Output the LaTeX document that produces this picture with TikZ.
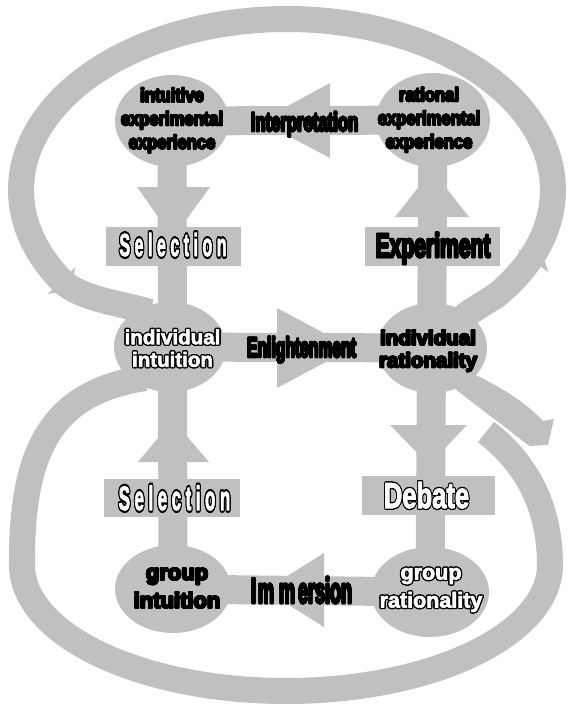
\documentclass[tikz,border=0pt]{standalone}
\usepackage{fontspec}
\usepackage{graphicx}
\usepackage[copies]{contour}
\usetikzlibrary{shapes.geometric}
\newfontfamily\blk{Liberation Sans Bold}[FakeBold=3]
\definecolor{ltgray}{RGB}{192,192,192}
\contournumber{12}
\newcommand\hs[2]{\scalebox{#1}[1]{#2}}
\newcommand\hv[1]{{\contourlength{0.55pt}\contour{black}{#1}}}
\newcommand\hvv[1]{{\contourlength{0.8pt}\contour{black}{#1}}}
\newcommand\hollow[1]{{\contourlength{1.3pt}\color{white}\contour{black}{#1}}}
\newcommand\hollowx[1]{{\contourlength{2.2pt}\color{white}\contour{black}{#1}}}
\begin{document}
\begin{tikzpicture}[x=1pt,y=-1pt,
  band/.style={draw=ltgray,line width=26pt,line join=round},
  bar/.style={draw=ltgray,line width=29pt},
  blob/.style={ellipse,fill=ltgray,inner sep=0pt,outer sep=0pt},
  tag/.style={rectangle,fill=ltgray,inner sep=0pt,outer sep=0pt},
  head/.style={fill=ltgray},
  word/.style={inner sep=0pt,outer sep=0pt,align=center,text=black}]
\useasboundingbox (0,0) rectangle (567,706);

% ---- big loops
\draw[band] (446,330) -- (470,312) -- plot[domain=-38:212,samples=120] ({287+266*cos(\x)},{190-171*sin(\x)}) .. controls (80,299) and (120,303) .. (150,312);
\fill[head] (75.2,267.3) -- (47.8,293.9) -- (71.3,290.7) -- cycle;
\fill[head] (548.4,272.2) -- (517.6,249.8) -- (541.2,249.7) -- cycle;

\draw[band] (145,378) .. controls (55,392) and (21,445) .. (22,565) -- plot[domain=180:360,samples=120] ({286+264*cos(\x)},{565-126*sin(\x)}) .. controls (550,505) and (525,462) .. (486,432);

% ---- ellipses
\node[blob, minimum width=114pt, minimum height=92pt] (iee) at (172,121) {};
\node[blob, minimum width=114pt, minimum height=94pt] (ree) at (433,120) {};
\node[blob, minimum width=112pt, minimum height=90pt] (ii) at (170,347) {};
\node[blob, minimum width=110pt, minimum height=90pt] (ir) at (432,348) {};
\node[blob, minimum width=116pt, minimum height=88pt] (gi) at (173,589) {};
\node[blob, minimum width=118pt, minimum height=90pt] (gr) at (430,592) {};

% ---- connectors
\draw[bar] (iee.center) -- (gi.center);
\draw[bar] (ree.center) -- (gr.center);
\draw[bar] (ree.center) -- (iee.center);
\draw[bar] (ii.center) -- (ir.center);
\draw[bar] (gr.center) -- (gi.center);

% ---- arrowheads
\fill[head] (330,83) -- (330,158) -- (260,121) -- cycle;
\fill[head] (277,308) -- (277,388) -- (352,348) -- cycle;
\fill[head] (324,553) -- (324,627) -- (265,590) -- cycle;
\fill[head] (137,187) -- (210,187) -- (173,238) -- cycle;
\fill[head] (395,217) -- (469,217) -- (432,170) -- cycle;
\fill[head] (138,462) -- (209,462) -- (173,420) -- cycle;
\fill[head] (390,425) -- (467,425) -- (429,465) -- cycle;

% ---- branch from individual rationality
\fill[head] (452,365) -- (480,377) .. controls (505,390) and (525,402) .. (543,421) -- (554,419) -- (548,445) -- (529,446) -- (450,385) -- cycle;
\draw[white, line width=1.6pt] (492,418.5) -- (531,448.5);

% ---- label boxes
\node[tag, minimum width=135pt, minimum height=39pt] (sel1) at (173.5,246.5) {};
\node[tag, minimum width=135pt, minimum height=39pt] (exp) at (432.5,246.5) {};
\node[tag, minimum width=136pt, minimum height=38pt] (sel2) at (172,498) {};
\node[tag, minimum width=133pt, minimum height=39pt] (deb) at (428.5,495.5) {};

% ---- texts
\node[word, font=\fontsize{19.5}{23.5}\selectfont\blk] (iee-t) at (172,120.5)
  {\hs{0.85}{\hv{intuitive}}\\\hs{0.85}{\hv{experimental}}\\\hs{0.85}{\hv{experience}}};
\node[word, font=\fontsize{19.5}{23.5}\selectfont\blk] (ree-t) at (429,120)
  {\hs{0.85}{\hv{rational}}\\\hs{0.85}{\hv{experimental}}\\\hs{0.85}{\hv{experience}}};
\node[word, font=\fontsize{20.5}{22.5}\selectfont\blk] (ii-t) at (172.5,348.8)
  {\hollow{individual}\\\hollow{intuition}};
\node[word, font=\fontsize{20.5}{22.5}\selectfont\blk] (ir-t) at (428,351)
  {\hv{individual}\\\hv{rationality}};
\node[word, font=\fontsize{22}{28}\selectfont\blk] (gi-t) at (177,588.3)
  {\hv{group}\\\hv{intuition}};
\node[word, font=\fontsize{21.5}{28}\selectfont\blk] (gr-t) at (431,590.6)
  {\hollow{group}\\\hollow{rationality}};

\node[word, anchor=base, font=\fontsize{26.5}{26.5}\selectfont\blk] (interp) at (304.5,131) {\hs{0.63}{\hvv{Interpretation}}};
\node[word, anchor=base, font=\fontsize{28}{28}\selectfont\blk] (enl) at (301.5,357) {\hs{0.56}{\hvv{Enlightenment}}};
\node[word, anchor=base, font=\fontsize{36}{36}\selectfont\blk] (imm) at (301.5,603) {\hs{0.5}{\hvv{I\kern4pt m\kern10pt m\kern6pt ersion}}};
\node[word, anchor=base, font=\fontsize{33.5}{33.5}\selectfont\blk] (exp-t) at (433,257) {\hs{0.63}{\hvv{Experiment}}};
\node[word, anchor=base, font=\fontsize{32}{32}\selectfont\blk] (sel1-t) at (173,256)
  {\hs{0.5}{\hollowx{S\kern9pt e\kern9pt l\kern9pt e\kern9pt c\kern9pt t\kern9pt i\kern9pt o\kern9pt n}}};
\node[word, anchor=base, font=\fontsize{34}{34}\selectfont\blk] (sel2-t) at (174.5,510)
  {\hs{0.5}{\hollowx{S\kern9pt e\kern9pt l\kern9pt e\kern9pt c\kern9pt t\kern9pt i\kern9pt o\kern9pt n}}};
\node[word, anchor=base, font=\fontsize{36}{36}\selectfont\blk] (deb-t) at (426.5,508) {\hs{0.71}{\hollow{Debate}}};
\end{tikzpicture}
\end{document}
